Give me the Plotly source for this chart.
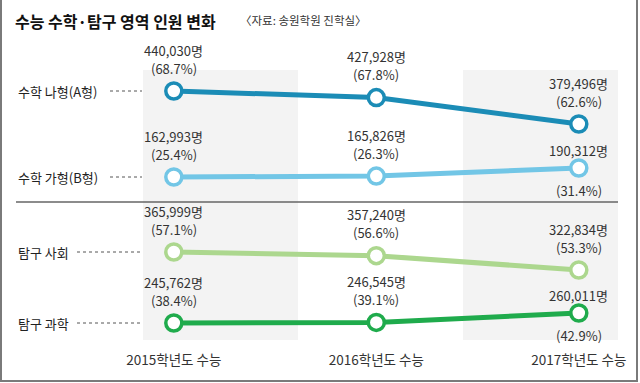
import plotly.graph_objects as go

# ---------------- data ----------------
years = ["2015학년도 수능", "2016학년도 수능", "2017학년도 수능"]
series_names = ["수학 나형(A형)", "수학 가형(B형)", "탐구 사회", "탐구 과학"]
math_a = [440030, 427928, 379496]
math_a_pct = [68.7, 67.8, 62.6]
math_b = [162993, 165826, 190312]
math_b_pct = [25.4, 26.3, 31.4]
social = [365999, 357240, 322834]
social_pct = [57.1, 56.6, 53.3]
science = [245762, 246545, 260011]
science_pct = [38.4, 39.1, 42.9]

values = [math_a, math_b, social, science]
pcts = [math_a_pct, math_b_pct, social_pct, science_pct]

# ---------------- style / layout ----------------
W, H = 640, 383
MB = 33
PLOT_H = H - MB
colors = ["#1b8cb6", "#72c6e6", "#acd78e", "#1fab4c"]
# pixel rows where each series' first and last points sit (per-series axis scaling)
anchor_px = [(91, 124), (177, 168), (252, 270), (323, 313)]
# label placement: 'above' = both lines above, 'split' = number above, pct below
label_mode = [["above", "above", "above"],
              ["above", "above", "split"],
              ["above", "above", "above"],
              ["above", "above", "split"]]
dots_start_px = [110, 110, 77, 77]

NUM_FONT = "Liberation Sans Narrow, Noto Sans CJK KR, sans-serif"
KR_FONT = "Noto Sans CJK KR, sans-serif"


def xp(px):
    return px / W


def yp(py):
    return 1 - py / PLOT_H


# x axis: index 0 -> 173.8 px, spacing 202.5 px
x0_px, dx_px = 173.8, 202.5
x_range = [-x0_px / dx_px, (W - x0_px) / dx_px]
xs = list(range(len(years)))

fig = go.Figure()
axis_names = ["y", "y2", "y3", "y4"]
layout_axes = {}
for i, vals in enumerate(values):
    p1, p3 = anchor_px[i]
    f1, f3 = yp(p1), yp(p3)
    v1, v3 = vals[0], vals[-1]
    span = (v1 - v3) / (f1 - f3)
    lo = v1 - f1 * span
    hi = lo + span
    key = "yaxis" if i == 0 else f"yaxis{i+1}"
    ax = dict(range=[lo, hi], domain=[0, 1], visible=False,
              showgrid=False, zeroline=False, fixedrange=True)
    if i > 0:
        ax["overlaying"] = "y"
    layout_axes[key] = ax
    fig.add_trace(go.Scatter(
        x=xs, y=vals, yaxis=axis_names[i], mode="lines+markers",
        line=dict(color=colors[i], width=5),
        marker=dict(size=16, color="white", line=dict(color=colors[i], width=3.5)),
        showlegend=False, hoverinfo="skip", cliponaxis=False))

annotations = []
shapes = []

# shaded columns
for a, b in [(143, 298), (463, 618)]:
    shapes.append(dict(type="rect", xref="paper", yref="paper",
                       x0=xp(a), x1=xp(b), y0=yp(340), y1=yp(70),
                       fillcolor="#f3f3f3", line=dict(width=0), layer="below"))
# separator
shapes.append(dict(type="line", xref="paper", yref="paper",
                   x0=xp(16), x1=xp(618), y0=yp(202), y1=yp(202),
                   line=dict(color="#666666", width=1.5)))
# frame (left, bottom, right)
shapes.append(dict(type="path", xref="paper", yref="paper",
                   path=f"M {xp(1)},{yp(-5)} L {xp(1)},{yp(381)} L {xp(637)},{yp(381)} L {xp(637)},{yp(-5)}",
                   line=dict(color="#7a7a7a", width=2)))

for i, vals in enumerate(values):
    yref = axis_names[i]
    # left series label
    annotations.append(dict(xref="paper", yref=yref, x=xp(16), y=vals[0],
                            xanchor="left", yanchor="middle", showarrow=False,
                            text=series_names[i],
                            font=dict(family=KR_FONT, size=13, color="#222222")))
    # dotted leader
    shapes.append(dict(type="line", xref="paper", yref=yref,
                       x0=xp(dots_start_px[i]), x1=xp(142), y0=vals[0], y1=vals[0],
                       line=dict(color="#555555", width=1, dash="dot")))
    for j, v in enumerate(vals):
        num_txt = f"{v:,}명"
        pct_txt = f"({pcts[i][j]:.1f}%)"
        lbl_font = dict(family=NUM_FONT, size=13, color="#333333")
        shifts = (41, 23) if label_mode[i][j] == "above" else (18, -22)
        for txt, sh in zip((num_txt, pct_txt), shifts):
            annotations.append(dict(xref="x", yref=yref, x=xs[j], y=v,
                                    xanchor="center", yanchor="middle",
                                    yshift=sh, showarrow=False, text=txt,
                                    font=lbl_font))

# title and source
annotations.append(dict(xref="paper", yref="paper", x=xp(13), y=yp(21),
                        xanchor="left", yanchor="middle", showarrow=False,
                        text="<b>수능 수학·탐구 영역 인원 변화</b>",
                        font=dict(family=KR_FONT, size=16, color="#111111")))
annotations.append(dict(xref="paper", yref="paper", x=xp(238), y=yp(20),
                        xanchor="left", yanchor="middle", showarrow=False,
                        text="〈자료: 송원학원 진학실〉",
                        font=dict(family=KR_FONT, size=11.5, color="#333333")))

fig.update_layout(
    width=W, height=H,
    margin=dict(l=0, r=0, t=0, b=MB),
    paper_bgcolor="white", plot_bgcolor="rgba(0,0,0,0)",
    xaxis=dict(range=x_range, tickvals=xs, ticktext=years, showgrid=False,
               zeroline=False, showline=False, ticks="", fixedrange=True,
               tickfont=dict(family=NUM_FONT, size=13.5, color="#333333")),
    shapes=shapes, annotations=annotations,
    **layout_axes,
)

fig.write_html("out.html", config={"displayModeBar": False},
               post_script="document.body.style.margin='0';document.body.style.overflow='hidden';")
